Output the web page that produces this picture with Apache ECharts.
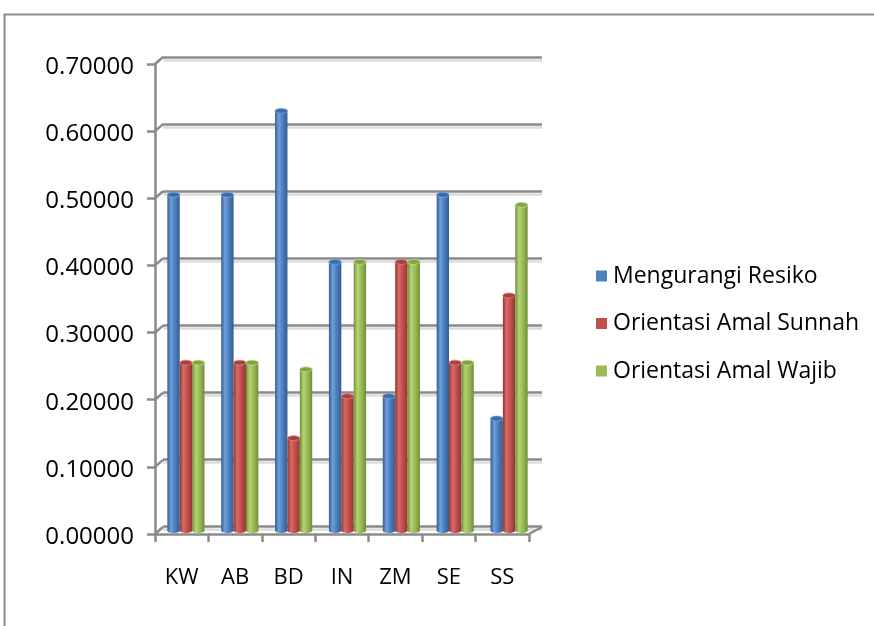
<!DOCTYPE html>
<html>
<head>
<meta charset="utf-8">
<script src="https://cdn.jsdelivr.net/npm/echarts@6/dist/echarts.min.js"></script>
<style>
  html, body { margin: 0; padding: 0; background: #ffffff; }
  #chart { width: 874px; height: 626px; }
</style>
</head>
<body>
<div id="chart"></div>
<script>
// Categories and the three series shown as cylinder columns
const categories = ['KW', 'AB', 'BD', 'IN', 'ZM', 'SE', 'SS'];
const seriesNames = ['Mengurangi Resiko', 'Orientasi Amal Sunnah', 'Orientasi Amal Wajib'];
const mengurangiResiko = [0.5, 0.5, 0.625, 0.4, 0.2, 0.5, 0.1667];
const orientasiAmalSunnah = [0.25, 0.25, 0.1375, 0.2, 0.4, 0.25, 0.35];
const orientasiAmalWajib = [0.25, 0.25, 0.24, 0.4, 0.4, 0.25, 0.485];
const yTickLabels = ['0.00000', '0.10000', '0.20000', '0.30000', '0.40000', '0.50000', '0.60000', '0.70000'];
const yTickValues = [0, 0.1, 0.2, 0.3, 0.4, 0.5, 0.6, 0.7];
const Y_MAX = 0.7;
const Y_STEP = 0.1;

const FONT = 'Open Sans';
const AXIS_GRAY = '#8a8a8a';

// Shading for each cylinder: dark edge, light highlight, darker far edge
const palettes = [
  { base: '#4F81BD', dark: '#335d92', light: '#6d9fdc', mid: '#4a7bb8', cap: '#3f6ca4', edge: '#7aa7dd' },
  { base: '#C0504D', dark: '#933733', light: '#da6a66', mid: '#bd4c49', cap: '#a8423f', edge: '#e08a87' },
  { base: '#9BBB59', dark: '#718d38', light: '#b4d472', mid: '#97b755', cap: '#82a244', edge: '#c2dc8c' }
];

function cylinderRenderer(seriesIdx) {
  const p = palettes[seriesIdx];
  const bodyFill = {
    type: 'linear', x: 0, y: 0, x2: 1, y2: 0,
    colorStops: [
      { offset: 0, color: p.dark },
      { offset: 0.3, color: p.light },
      { offset: 0.65, color: p.mid },
      { offset: 1, color: p.dark }
    ]
  };
  return function (params, api) {
    const i = api.value(0);
    const v = api.value(1);
    const top = api.coord([i, v]);
    const base = api.coord([i, 0]);
    const band = api.size([1, 0])[0];
    const w = band * 0.23;
    const cx = top[0] + (seriesIdx - 1) * w;
    const ry = w * 0.2;
    return {
      type: 'group',
      children: [
        { type: 'rect', shape: { x: cx - w / 2, y: top[1], width: w, height: base[1] - top[1] }, style: { fill: bodyFill } },
        { type: 'ellipse', shape: { cx: cx, cy: base[1], rx: w / 2, ry: ry }, style: { fill: bodyFill } },
        { type: 'ellipse', shape: { cx: cx, cy: top[1], rx: w / 2, ry: ry }, style: { fill: p.cap, stroke: p.edge, lineWidth: 0.8 } }
      ]
    };
  };
}

// Short diagonal links from the front value axis back to the wall gridlines
function wallLinkRenderer(params, api) {
  const cs = params.coordSys;
  const y = api.coord([0, api.value(1)])[1];
  return {
    type: 'line',
    shape: { x1: cs.x, y1: y, x2: cs.x + 8, y2: y - 7 },
    style: { stroke: AXIS_GRAY, lineWidth: 2.5 }
  };
}

// Right corner of the floor, joining the front edge to the back wall
function floorCornerRenderer(params, api) {
  const cs = params.coordSys;
  const y = api.coord([0, 0])[1];
  return {
    type: 'line',
    shape: { x1: cs.x + cs.width, y1: y, x2: cs.x + cs.width + 13, y2: y - 7 },
    style: { stroke: AXIS_GRAY, lineWidth: 2.5 }
  };
}

const seriesValues = [mengurangiResiko, orientasiAmalSunnah, orientasiAmalWajib];

const chart = echarts.init(document.getElementById('chart'), null, { renderer: 'canvas' });

const option = {
  backgroundColor: '#ffffff',
  animation: false,
  textStyle: { fontFamily: FONT },
  graphic: [
    {
      type: 'rect',
      shape: { x: 4.5, y: 14.5, width: 1000, height: 800 },
      style: { fill: null, stroke: '#8c8c8c', lineWidth: 2 },
      silent: true
    }
  ],
  legend: {
    orient: 'vertical',
    left: 591,
    top: 259,
    itemWidth: 11,
    itemHeight: 11,
    itemGap: 23.5,
    icon: 'rect',
    data: seriesNames,
    textStyle: { fontFamily: FONT, fontSize: 23, color: '#000', lineHeight: 24, padding: [0, 0, 0, 1] }
  },
  grid: [
    // front axes
    { left: 155, top: 64, width: 374, height: 470 },
    // back wall gridlines
    { left: 163, top: 57, width: 379, height: 469 },
    // columns at mid depth
    { left: 159, top: 60.5, width: 377, height: 470 }
  ],
  xAxis: [
    {
      gridIndex: 0, type: 'category', data: categories, boundaryGap: true,
      axisLine: { show: true, lineStyle: { color: AXIS_GRAY, width: 2.5 } },
      axisTick: { show: true, length: 8, alignWithLabel: false, lineStyle: { color: AXIS_GRAY, width: 2.5 } },
      axisLabel: { margin: 33, fontFamily: FONT, fontSize: 22, color: '#000' },
      splitLine: { show: false }
    },
    {
      gridIndex: 1, type: 'category', data: categories,
      axisLine: { show: false }, axisTick: { show: false }, axisLabel: { show: false }, splitLine: { show: false }
    },
    {
      gridIndex: 2, type: 'category', data: categories,
      axisLine: { show: false }, axisTick: { show: false }, axisLabel: { show: false }, splitLine: { show: false }
    }
  ],
  yAxis: [
    {
      gridIndex: 0, type: 'value', min: 0, max: Y_MAX, interval: Y_STEP,
      axisLine: { show: true, lineStyle: { color: AXIS_GRAY, width: 2.5 } },
      axisTick: { show: true, length: 8, lineStyle: { color: AXIS_GRAY, width: 2.5 } },
      axisLabel: {
        margin: 21, color: '#000',
        formatter: function (v) { return '{t|' + yTickLabels[Math.round(v / Y_STEP)] + '}'; },
        rich: { t: { fontFamily: FONT, fontSize: 24, color: '#000', padding: [6, 0, 0, 0] } }
      },
      splitLine: { show: false }
    },
    {
      gridIndex: 1, type: 'value', min: 0, max: Y_MAX, interval: Y_STEP,
      axisLine: { show: false }, axisTick: { show: false }, axisLabel: { show: false },
      splitLine: { show: true, lineStyle: { color: AXIS_GRAY, width: 2.5, shadowColor: '#dcdcdc', shadowOffsetY: 3, shadowBlur: 0 } }
    },
    {
      gridIndex: 2, type: 'value', min: 0, max: Y_MAX, interval: Y_STEP,
      axisLine: { show: false }, axisTick: { show: false }, axisLabel: { show: false }, splitLine: { show: false }
    }
  ],
  series: [
    {
      type: 'custom', name: 'wallLinks', xAxisIndex: 0, yAxisIndex: 0, silent: true,
      renderItem: wallLinkRenderer,
      data: yTickValues.map(function (v) { return [0, v]; }),
      encode: { x: 0, y: 1 }
    },
    {
      type: 'custom', name: 'floorCorner', xAxisIndex: 0, yAxisIndex: 0, silent: true,
      renderItem: floorCornerRenderer,
      data: [[0, 0]],
      encode: { x: 0, y: 1 }
    }
  ].concat(seriesNames.map(function (name, s) {
    return {
      type: 'custom',
      name: name,
      xAxisIndex: 2,
      yAxisIndex: 2,
      itemStyle: { color: palettes[s].base },
      renderItem: cylinderRenderer(s),
      data: seriesValues[s].map(function (v, i) { return [i, v]; }),
      encode: { x: 0, y: 1 }
    };
  }))
};

chart.setOption(option);
</script>
</body>
</html>
